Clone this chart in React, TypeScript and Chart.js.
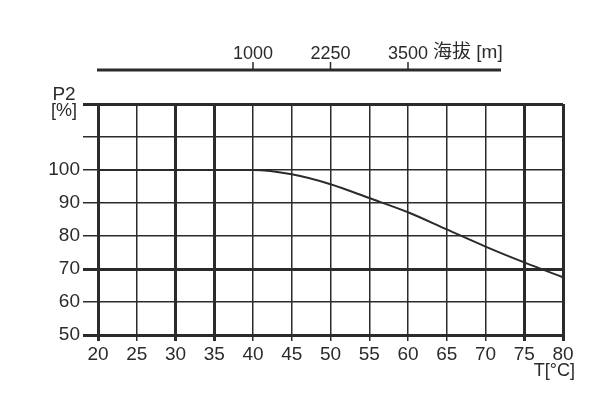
import React, { useEffect, useRef } from "react";
import { Chart, registerables } from "chart.js";

Chart.register(...registerables);

const temps = [20, 25, 30, 35, 40, 45, 50, 55, 60, 65, 70, 75, 80];
const p2Values = [100, 100, 100, 100, 100, 98.7, 95.7, 91.5, 87.2, 82, 76.8, 72, 67.5];
const heavyX = [20, 30, 35, 75, 80];
const heavyY = [50, 70, 120];
const altitudeTemps = [40, 50, 60];
const altitudeLabels = ["1000", "2250", "3500"];
const altitudeUnit = "海拔 [m]";
const altitudeAxisRange = [20, 72];
const yTitleLines = ["P2", "[%]"];
const xTitle = "T[°C]";

const FONT = "'Liberation Sans', Arial, 'Noto Sans CJK SC', sans-serif";
const INK = "#2b2b2b";

const annotPlugin = {
  id: "annot",
  afterDraw(chart: any) {
    const ctx = chart.ctx;
    const x = chart.scales.x;
    ctx.save();
    ctx.fillStyle = INK;
    ctx.strokeStyle = INK;
    // top altitude axis
    const axisY = 70;
    ctx.lineWidth = 3;
    ctx.beginPath();
    ctx.moveTo(x.getPixelForValue(altitudeAxisRange[0]) - 1, axisY);
    ctx.lineTo(x.getPixelForValue(altitudeAxisRange[1]), axisY);
    ctx.stroke();
    ctx.lineWidth = 1.5;
    ctx.font = `18px ${FONT}`;
    ctx.textAlign = "center";
    ctx.textBaseline = "middle";
    altitudeTemps.forEach((t, i) => {
      const px = x.getPixelForValue(t);
      ctx.beginPath();
      ctx.moveTo(px, axisY - 8);
      ctx.lineTo(px, axisY);
      ctx.stroke();
      ctx.fillText(altitudeLabels[i], px, 54);
    });
    const lastPx = x.getPixelForValue(altitudeTemps[altitudeTemps.length - 1]);
    ctx.textAlign = "left";
    ctx.font = `19px ${FONT}`;
    ctx.fillText(altitudeUnit, lastPx + 25, 53);
    // y title
    ctx.textAlign = "center";
    ctx.font = `19px ${FONT}`;
    ctx.fillText(yTitleLines[0], 64, 95);
    ctx.font = `18px ${FONT}`;
    ctx.fillText(yTitleLines[1], 64, 111);
    // x title
    ctx.textAlign = "right";
    ctx.font = `18px ${FONT}`;
    ctx.fillText(xTitle, 575, 371);
    ctx.restore();
  },
};

export default function App() {
  const ref = useRef<HTMLCanvasElement | null>(null);
  useEffect(() => {
    if (!ref.current) return;
    const chart = new Chart(ref.current, {
      type: "line",
      data: {
        labels: temps,
        datasets: [
          {
            data: temps.map((t, i) => ({ x: t, y: p2Values[i] })),
            borderColor: INK,
            borderWidth: 2,
            pointRadius: 0,
            cubicInterpolationMode: "monotone",
            fill: false,
          },
        ],
      },
      options: {
        responsive: false,
        animation: false,
        layout: { padding: { left: 0, top: 104, right: 41, bottom: 0 } },
        plugins: { legend: { display: false }, tooltip: { enabled: false }, title: { display: false } },
        scales: {
          x: {
            type: "linear",
            min: 20,
            max: 80,
            afterBuildTicks: (s: any) => {
              s.ticks = temps.map((v) => ({ value: v }));
            },
            afterFit: (s: any) => {
              s.height = 62;
            },
            border: { display: false },
            grid: {
              color: INK,
              lineWidth: (c: any) => (heavyX.includes(c.tick?.value) ? 3 : 1.5),
              tickLength: 6,
              drawTicks: true,
            },
            ticks: {
              color: INK,
              font: { family: FONT, size: 19 },
              padding: 2,
              autoSkip: false,
              maxRotation: 0,
              callback: (v: any) => String(v),
            },
          },
          y: {
            type: "linear",
            min: 50,
            max: 120,
            afterBuildTicks: (s: any) => {
              const t = [];
              for (let v = 50; v <= 120; v += 10) t.push({ value: v });
              s.ticks = t;
            },
            afterFit: (s: any) => {
              s.width = 98;
            },
            border: { display: false },
            grid: {
              color: INK,
              lineWidth: (c: any) => (heavyY.includes(c.tick?.value) ? 3 : 1.5),
              tickLength: 15,
            },
            ticks: {
              color: INK,
              font: { family: FONT, size: 19 },
              padding: 3,
              callback: (v: any) => (v <= 100 ? String(v) : ""),
            },
          },
        },
      },
      plugins: [annotPlugin],
    } as any);
    return () => chart.destroy();
  }, []);
  return (
    <div style={{ position: "absolute", left: 0, top: 0, width: 604, height: 397, background: "#fff" }}>
      <canvas ref={ref} width={604} height={397} style={{ display: "block" }} />
    </div>
  );
}
